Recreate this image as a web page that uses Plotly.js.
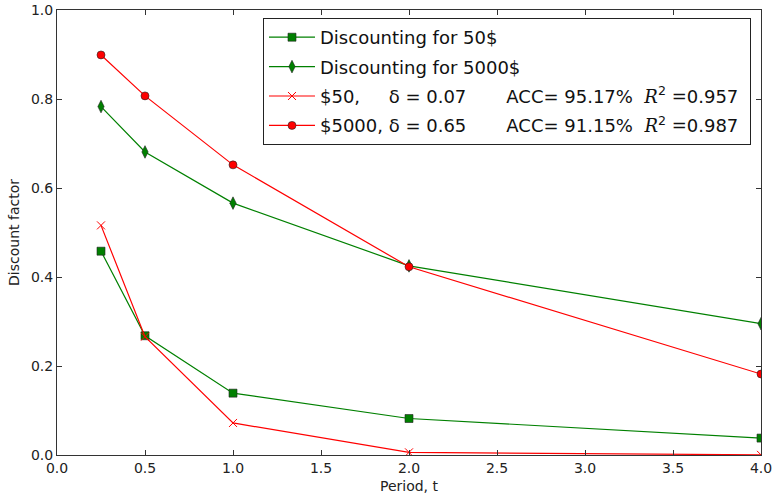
<!DOCTYPE html>
<html>
<head>
<meta charset="utf-8">
<script src="https://cdn.plot.ly/plotly-3.0.1.min.js"></script>
<style>html,body{margin:0;padding:0;background:#fff;}</style>
</head>
<body>
<div id="chart" style="width:773px;height:498px;"></div>
<script>
const periods = [0.25, 0.5, 1, 2, 4];
const disc50 = [0.458, 0.268, 0.139, 0.082, 0.038];
const disc5000 = [0.783, 0.681, 0.566, 0.425, 0.295];
const fit50 = [0.516, 0.266, 0.072, 0.006, 0.0003];
const fit5000 = [0.899, 0.807, 0.652, 0.423, 0.182];
const xTicks = [0, 0.5, 1, 1.5, 2, 2.5, 3, 3.5, 4];
const xTickLabels = ["0.0","0.5","1.0","1.5","2.0","2.5","3.0","3.5","4.0"];
const yTicks = [0, 0.2, 0.4, 0.6, 0.8, 1.0];
const yTickLabels = ["0.0","0.2","0.4","0.6","0.8","1.0"];

const S = '\u00A0';
const R2 = '<span style="font-family:\'DejaVu Serif\';font-style:italic">R</span><sup>2</sup>' + S + '<span style="font-family:\'DejaVu Serif\'">=</span>';
const names = [
  'Discounting for 50$',
  'Discounting for 5000$',
  '$50,' + S.repeat(5) + 'δ = 0.07' + S.repeat(7) + 'ACC= 95.17%' + S + S + R2 + '0.957' + S,
  '$5000,' + S + 'δ = 0.65' + S.repeat(7) + 'ACC= 91.15%' + S + S + R2 + '0.987' + S
];

const green = '#008000', red = '#ff0000';
const traces = [
  {x: periods, y: disc50, name: names[0], mode: 'lines+markers', legendgroup: 'a',
   line: {color: green, width: 1.2},
   marker: {symbol: 'square', size: 8, color: green, line: {color: '#222', width: 0.6}}},
  {x: periods, y: disc5000, name: names[1], mode: 'lines+markers', legendgroup: 'b',
   line: {color: green, width: 1.2},
   marker: {symbol: 'diamond-tall', size: 9, color: green, line: {color: '#222', width: 0.6}}},
  {x: periods, y: fit50, name: names[2], mode: 'lines+markers', legendgroup: 'c',
   line: {color: red, width: 1.2},
   marker: {symbol: 'x-thin-open', size: 8, color: red, line: {color: red, width: 1}}},
  {x: periods, y: fit5000, name: names[3], mode: 'lines+markers', legendgroup: 'd',
   line: {color: red, width: 1.2},
   marker: {symbol: 'circle', size: 8, color: red, line: {color: '#222', width: 0.6}}}
];

const axisCommon = {
  showgrid: false, zeroline: false, showline: true, linecolor: '#333', linewidth: 1,
  mirror: 'ticks', ticks: 'inside', ticklen: 5, tickcolor: '#333', tickwidth: 1,
  tickfont: {family: 'DejaVu Sans', size: 14, color: '#222'}
};

const layout = {
  width: 773, height: 498,
  margin: {l: 57, r: 12, t: 10, b: 43},
  paper_bgcolor: '#fff', plot_bgcolor: '#fff',
  font: {family: 'DejaVu Sans', color: '#222'},
  xaxis: Object.assign({}, axisCommon, {
    range: [0, 4], tickvals: xTicks, ticktext: xTickLabels,
    title: {text: 'Period, t', font: {family: 'DejaVu Sans', size: 14, color: '#222'}, standoff: 6}
  }),
  yaxis: Object.assign({}, axisCommon, {
    range: [0, 1], tickvals: yTicks, ticktext: yTickLabels,
    title: {text: 'Discount factor', font: {family: 'DejaVu Sans', size: 14, color: '#222'}, standoff: 8}
  }),
  showlegend: true,
  legend: {
    x: 0.2926, y: 0.982, xanchor: 'left', yanchor: 'top',
    bgcolor: '#fff', bordercolor: '#222', borderwidth: 1,
    font: {family: 'DejaVu Sans', size: 18, color: '#111'},
    tracegroupgap: 3, itemwidth: 46
  }
};

Plotly.newPlot('chart', traces, layout, {displayModeBar: false, staticPlot: true});
</script>
</body>
</html>
